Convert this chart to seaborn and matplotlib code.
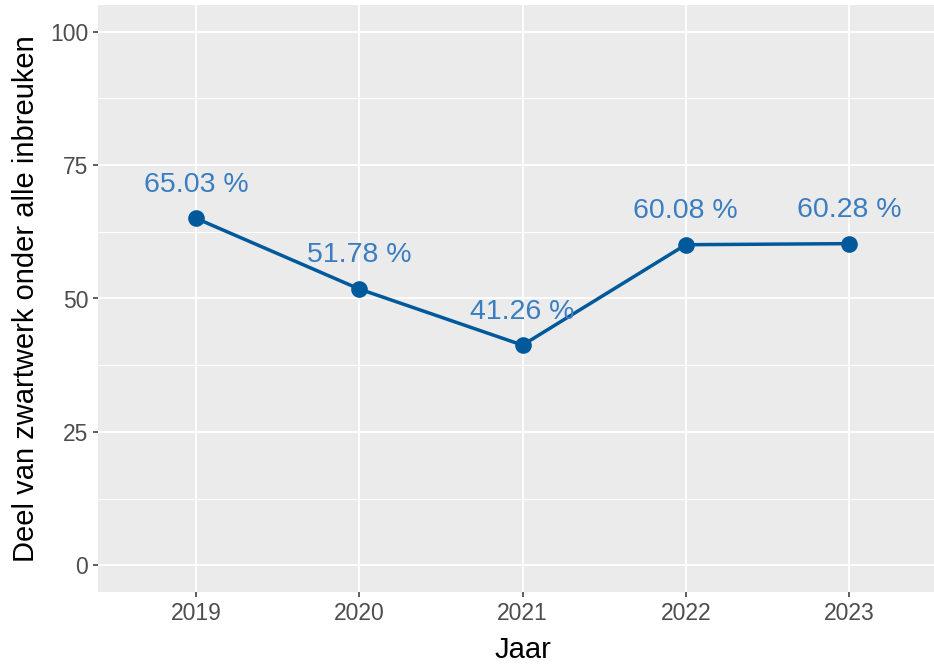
import pandas as pd
import matplotlib
matplotlib.use("Agg")
import matplotlib.pyplot as plt
import seaborn as sns
from matplotlib.ticker import MultipleLocator

# data
years = [2019, 2020, 2021, 2022, 2023]
shares = [65.03, 51.78, 41.26, 60.08, 60.28]
labels = ["65.03 %", "51.78 %", "41.26 %", "60.08 %", "60.28 %"]

df = pd.DataFrame({"Jaar": years, "Deel": shares})

sns.set_theme(style="darkgrid", rc={
    "axes.facecolor": "#EBEBEB",
    "grid.color": "white",
    "axes.edgecolor": "#EBEBEB",
})
plt.rcParams["font.family"] = ["Liberation Sans", "DejaVu Sans"]

line_color = "#00599A"
label_color = "#3A7DC0"

fig = plt.figure(figsize=(9.34, 6.64), dpi=100)
ax = fig.add_axes([98 / 934, 1 - 592 / 664, (947 - 98) / 934, 587 / 664])

sns.lineplot(data=df, x="Jaar", y="Deel", ax=ax, color=line_color,
             linewidth=2.5, marker="o", markersize=12, markeredgewidth=0,
             zorder=3)

# value labels above points
for x, y, lab in zip(years, shares, labels):
    ax.text(x, y + 6.3, lab, ha="center", va="center",
            fontsize=20.5, color=label_color, zorder=4)

ax.set_xlim(2018.4, 2023.6)
ax.set_ylim(-5, 105)
ax.set_xticks(years)
ax.set_xticklabels([str(y) for y in years])
ax.yaxis.set_major_locator(MultipleLocator(25))
ax.yaxis.set_minor_locator(MultipleLocator(12.5))
ax.grid(which="major", color="white", linewidth=1.3)
ax.grid(which="minor", axis="y", color="white", linewidth=0.7)
for s in ax.spines.values():
    s.set_visible(False)

ax.tick_params(axis="both", which="major", length=3.6, width=1.1,
               color="#333333", labelsize=16.5, labelcolor="#4D4D4D",
               pad=3.5, left=True, bottom=True)
ax.tick_params(axis="y", which="minor", length=0)

ax.set_xlabel("Jaar", fontsize=21, color="black", labelpad=8)
ax.set_ylabel("Deel van zwartwerk onder alle inbreuken", fontsize=21,
              color="black", labelpad=7)

fig.savefig("out.png", dpi=100)
